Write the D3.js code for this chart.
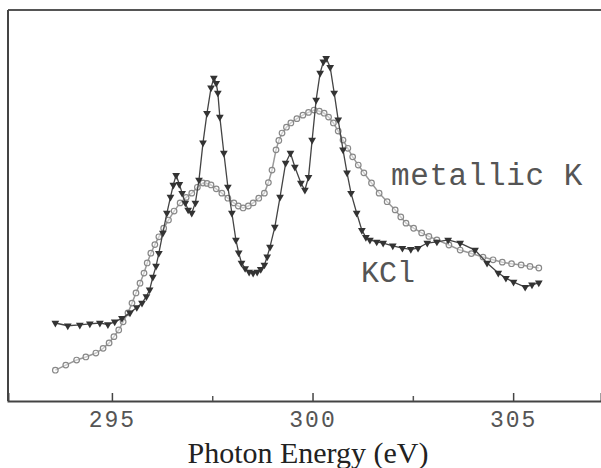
<!DOCTYPE html>
<html>
<head>
<meta charset="utf-8">
<script src="https://cdn.jsdelivr.net/npm/d3@7"></script>
<style>
  body { margin: 0; background: #fff; }
  svg { display: block; }
</style>
</head>
<body>
<svg id="chart" width="601" height="468"></svg>
<script>
// Photon energy (eV) and intensity (arb. units)

const kclEnergy = [293.59, 293.9, 294.2, 294.45, 294.7, 294.9, 295.07, 295.25, 295.45, 295.62, 295.75, 295.86, 295.94, 296.02,
  296.1, 296.17, 296.27, 296.37, 296.46, 296.53, 296.6, 296.68, 296.75, 296.83, 296.9, 296.99, 297.08, 297.17, 297.27, 297.37,
  297.47, 297.54, 297.6, 297.64, 297.69, 297.79, 297.89, 297.99, 298.09, 298.16, 298.23, 298.32, 298.42, 298.52, 298.62,
  298.71, 298.8, 298.87, 298.94, 299.06, 299.19, 299.33, 299.45, 299.56, 299.71, 299.81, 299.9, 299.99, 300.09, 300.19,
  300.27, 300.34, 300.44, 300.54, 300.64, 300.76, 300.86, 300.96, 301.1, 301.23, 301.33, 301.43, 301.6, 301.76, 302.0,
  302.24, 302.45, 302.63, 302.86, 303.1, 303.38, 303.68, 304.05, 304.35, 304.63, 304.82, 305.01, 305.3, 305.47, 305.64];
const kclValue = [20.0, 19.3, 19.5, 19.8, 20.0, 19.6, 20.3, 21.2, 22.6, 24.0, 25.1, 26.8, 28.5, 31.8,
  34.6, 37.9, 43.1, 48.2, 52.3, 55.4, 57.9, 55.6, 53.3, 50.8, 49.0, 48.2, 50.8, 56.7, 66.2, 73.8,
  80.3, 82.8, 81.5, 79.0, 72.8, 63.6, 54.9, 48.2, 41.3, 38.0, 35.4, 34.0, 33.1, 32.8, 33.1,
  33.8, 34.9, 37.0, 39.5, 44.6, 52.3, 61.0, 63.6, 60.0, 55.9, 54.1, 57.4, 66.9, 77.2, 84.1,
  87.0, 87.9, 85.6, 79.0, 72.1, 64.4, 58.5, 53.3, 48.2, 43.8, 42.0, 41.3, 40.8, 40.5, 39.8,
  39.2, 38.9, 39.2, 40.5, 40.8, 41.3, 40.5, 38.7, 35.4, 32.8, 31.5, 30.5, 29.2, 29.8, 30.3];

const metalEnergy = [293.59, 293.85, 294.12, 294.35, 294.6, 294.78, 294.93, 295.05, 295.17, 295.28, 295.4, 295.5, 295.6, 295.7,
  295.8, 295.88, 295.97, 296.07, 296.17, 296.29, 296.41, 296.55, 296.7, 296.85, 296.99, 297.13, 297.27, 297.37, 297.47, 297.6,
  297.74, 297.89, 298.04, 298.15, 298.27, 298.4, 298.52, 298.66, 298.8, 298.9, 298.99, 299.09, 299.16, 299.24, 299.35,
  299.46, 299.61, 299.76, 299.9, 300.04, 300.17, 300.29, 300.4, 300.52, 300.64, 300.76, 300.88, 301.0, 301.14, 301.28,
  301.47, 301.66, 301.86, 302.06, 302.2, 302.33, 302.52, 302.72, 302.9, 303.1, 303.4, 303.68, 303.96, 304.25, 304.5,
  304.73, 304.96, 305.2, 305.42, 305.64];
const metalValue = [7.9, 9.2, 10.5, 11.3, 12.3, 13.5, 14.9, 16.5, 18.2, 20.3, 22.6, 25.1, 27.7, 30.2,
  32.8, 35.4, 37.9, 40.1, 42.1, 44.3, 46.4, 48.7, 50.8, 52.2, 53.3, 54.8, 55.9, 55.8, 55.4, 54.4,
  53.3, 52.0, 50.8, 50.0, 49.5, 50.0, 50.8, 52.0, 53.3, 56.0, 59.2, 64.4, 66.8, 68.7, 70.2,
  71.3, 72.4, 73.3, 74.0, 74.6, 74.3, 73.8, 72.8, 71.3, 69.2, 66.9, 64.8, 62.6, 60.5, 58.5,
  55.9, 53.3, 51.1, 49.0, 47.2, 45.6, 44.3, 43.1, 42.2, 41.3, 40.0, 38.7, 37.8, 36.9, 36.2,
  35.6, 35.2, 34.9, 34.5, 34.1];

const majorTicks = [295, 300, 305];
const minorTicks = [297.5, 302.5];
const xLabel = "Photon Energy (eV)";
const seriesLabels = ["metallic K", "KCl"];

const svg = d3.select("#chart");
const mono = "'Liberation Mono', 'DejaVu Sans Mono', monospace";

const x = d3.scaleLinear().domain([292.41, 307.19]).range([8, 601]);
const y = d3.scaleLinear().domain([0, 100]).range([401, 11]);

// frame: top and left lines
svg.append("line")
  .attr("x1", 8).attr("x2", 601).attr("y1", 10).attr("y2", 10)
  .attr("stroke", "#555").attr("stroke-width", 2);
svg.append("line")
  .attr("x1", 8).attr("x2", 8).attr("y1", 10).attr("y2", 401)
  .attr("stroke", "#444").attr("stroke-width", 2);

// bottom axis, ticks pointing up
const axis = svg.append("g")
  .attr("transform", "translate(0,401)")
  .call(d3.axisBottom(x).tickValues(majorTicks).tickSize(-8).tickPadding(10).tickFormat(d3.format("d")));
axis.select(".domain").attr("stroke", "#444").attr("stroke-width", 2);
axis.selectAll(".tick line").attr("stroke", "#444").attr("stroke-width", 1.5);
axis.selectAll(".tick text")
  .attr("font-family", mono)
  .attr("font-size", 23)
  .attr("letter-spacing", 2)
  .attr("fill", "#555");

svg.append("g")
  .attr("transform", "translate(0,401)")
  .call(d3.axisBottom(x).tickValues(minorTicks).tickSize(-5).tickFormat(""))
  .call(g => g.select(".domain").remove())
  .selectAll(".tick line").attr("stroke", "#555").attr("stroke-width", 1.5);

svg.append("text")
  .attr("x", 308).attr("y", 463)
  .attr("text-anchor", "middle")
  .attr("font-family", "'Liberation Serif', 'Times New Roman', serif")
  .attr("font-size", 30)
  .attr("fill", "#222")
  .text(xLabel);

const line = d3.line().x(d => x(d[0])).y(d => y(d[1]));

// metallic K: open circles
const metal = metalEnergy.map((e, i) => [e, metalValue[i]]);
svg.append("path")
  .datum(metal)
  .attr("d", line)
  .attr("fill", "none")
  .attr("stroke", "#999")
  .attr("stroke-width", 1.5);
svg.append("g").selectAll("circle")
  .data(metal)
  .join("circle")
  .attr("cx", d => x(d[0]))
  .attr("cy", d => y(d[1]))
  .attr("r", 2.8)
  .attr("fill", "#fff")
  .attr("fill-opacity", 0.5)
  .attr("stroke", "#888")
  .attr("stroke-width", 1.2);

// KCl: filled down triangles
const kcl = kclEnergy.map((e, i) => [e, kclValue[i]]);
svg.append("path")
  .datum(kcl)
  .attr("d", line)
  .attr("fill", "none")
  .attr("stroke", "#444")
  .attr("stroke-width", 1.3);
const tri = d3.symbol().type(d3.symbolTriangle).size(26);
svg.append("g").selectAll("path")
  .data(kcl)
  .join("path")
  .attr("d", tri)
  .attr("transform", d => `translate(${x(d[0])},${y(d[1])}) rotate(180)`)
  .attr("fill", "#333");

// series labels
svg.append("text")
  .attr("x", 391).attr("y", 185)
  .attr("font-family", mono)
  .attr("font-size", 31)
  .attr("letter-spacing", 0.6)
  .attr("fill", "#555")
  .text(seriesLabels[0]);
svg.append("text")
  .attr("x", 361).attr("y", 282)
  .attr("font-family", mono)
  .attr("font-size", 30)
  .attr("fill", "#555")
  .text(seriesLabels[1]);
</script>
</body>
</html>
